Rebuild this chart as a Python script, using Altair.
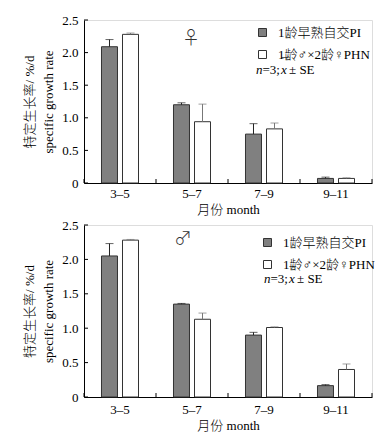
import altair as alt
import pandas as pd

months = ["3–5", "5–7", "7–9", "9–11"]
series = ["1龄早熟自交PI", "1龄♂×2龄♀PHN"]

female_pi = [2.09, 1.20, 0.75, 0.07]
female_pi_se = [0.11, 0.03, 0.16, 0.02]
female_phn = [2.28, 0.94, 0.83, 0.07]
female_phn_se = [0.02, 0.27, 0.09, 0.01]

male_pi = [2.05, 1.35, 0.90, 0.165]
male_pi_se = [0.18, 0.01, 0.04, 0.015]
male_phn = [2.28, 1.13, 1.01, 0.40]
male_phn_se = [0.01, 0.09, 0.01, 0.08]

y_ticks = [0, 0.5, 1.0, 1.5, 2.0, 2.5]
note_parts = ["n", "=3; ", "x", "¯", "± SE"]
note_italic = [True, False, True, False, False]
note_dx = [0, 6.5, 25, 25.5, 33]
note_dy = [0, 0, 0, -7, 0]

FONT = "Liberation Serif, Noto Sans CJK SC"
FILL = ["#808080", "#ffffff"]
ERR = ["#222222", "#777777"]


def panel(pi, pi_se, phn, phn_se, sex, width, height, lx, ly, sx, sy, nx, ny, xlp):
    rows = []
    for s, vals, ses in [(series[0], pi, pi_se), (series[1], phn, phn_se)]:
        for m, v, e in zip(months, vals, ses):
            rows.append({"month": m, "series": s, "value": v, "top": v + e})
    df = pd.DataFrame(rows)

    xaxis = alt.Axis(title="月份 month", labelAngle=0, tickSize=0, labelPadding=xlp,
                     titlePadding=3, domainColor="black", labelColor="black",
                     titleColor="black", labelFontSize=13, titleFontSize=13,
                     labelFont=FONT, titleFont=FONT, titleFontWeight=300)
    yaxis = alt.Axis(
        values=y_ticks, tickSize=0, grid=False, domainColor="black",
        labelOverlap=False,
        labelExpr="datum.value == 0 ? '0' : format(datum.value, '.1f')",
        title=["特定生长率/ %/d", "specific growth rate"],
        labelPadding=6, titlePadding=6, labelFontSize=13, titleFontSize=13,
        labelFont=FONT, titleFont=FONT, titleFontWeight=300,
        labelColor="black", titleColor="black", titleLineHeight=19)
    xscale = alt.Scale(domain=months, paddingInner=0, paddingOuter=0)
    xoff = alt.XOffset("series:N", sort=series,
                       scale=alt.Scale(domain=series, paddingInner=0, paddingOuter=0.714))
    yscale = alt.Scale(domain=[0, 2.5], nice=False)

    def X(**kw):
        return alt.X("month:N", sort=months, scale=xscale, axis=xaxis, **kw)

    def Y(field):
        return alt.Y(field, scale=yscale, axis=yaxis)

    bars = alt.Chart(df).mark_bar(width=16, stroke="#333", strokeWidth=1).encode(
        x=X(), xOffset=xoff, y=Y("value:Q"),
        fill=alt.Fill("series:N", sort=series,
                      scale=alt.Scale(domain=series, range=FILL),
                      legend=alt.Legend(orient="none", legendX=lx, legendY=ly, title=None,
                                        symbolType="square", symbolSize=64,
                                        symbolStrokeColor="#333", symbolStrokeWidth=1,
                                        labelFont=FONT, labelFontSize=13, labelColor="black",
                                        labelFontWeight=300,
                                        rowPadding=8, labelOffset=9, padding=0)),
    )

    layers = [bars]
    for s, c in zip(series, ERR):
        sub = alt.Chart(df).transform_filter(alt.datum.series == s)
        layers.append(sub.mark_rule(color=c, strokeWidth=1).encode(
            x=X(), xOffset=xoff, y=Y("value:Q"), y2="top:Q"))
        layers.append(sub.mark_tick(color=c, size=8, thickness=1).encode(
            x=X(), xOffset=xoff, y=Y("top:Q")))

    ytick = alt.Chart(pd.DataFrame({"v": y_ticks})).mark_rule(color="black").encode(
        y=Y("v:Q"), x=alt.value(0), x2=alt.value(4))
    mdf = pd.DataFrame({"month": months})
    xtick = alt.Chart(mdf).mark_rule(color="black").encode(
        x=X(bandPosition=0), y=alt.value(height), y2=alt.value(height - 4))
    xtick_end = alt.Chart(mdf.tail(1)).mark_rule(color="black").encode(
        x=X(bandPosition=1), y=alt.value(height), y2=alt.value(height - 4))
    layers += [ytick, xtick, xtick_end]

    sym = alt.Chart(pd.DataFrame({"t": [sex]})).mark_text(
        font="Noto Sans CJK SC", fontSize=18, fontWeight=300, color="#333").encode(
        text="t:N", x=alt.value(sx), y=alt.value(sy))
    layers.append(sym)

    for part, it, dx, dy in zip(note_parts, note_italic, note_dx, note_dy):
        layers.append(alt.Chart(pd.DataFrame({"t": [part]})).mark_text(
            font="Liberation Serif", fontSize=13, align="left", baseline="middle",
            fontStyle="italic" if it else "normal", color="black").encode(
            text="t:N", x=alt.value(nx + dx), y=alt.value(ny + dy)))

    return alt.layer(*layers).properties(width=width, height=height)


top = panel(female_pi, female_pi_se, female_phn, female_phn_se, "♀",
            288, 163, 172, 6, 107, 19, 172, 50, 4)
bottom = panel(male_pi, male_pi_se, male_phn, male_phn_se, "♂",
               288, 172, 177, 11, 99, 15, 180, 54, 6)

chart = alt.vconcat(top, bottom, spacing=1).resolve_legend(fill="independent").properties(
    padding={"left": 15, "top": 5, "right": 0, "bottom": 0}
).configure_view(stroke=None).configure(background="white")

chart.save("out.html", embed_options={"renderer": "svg", "actions": False})
